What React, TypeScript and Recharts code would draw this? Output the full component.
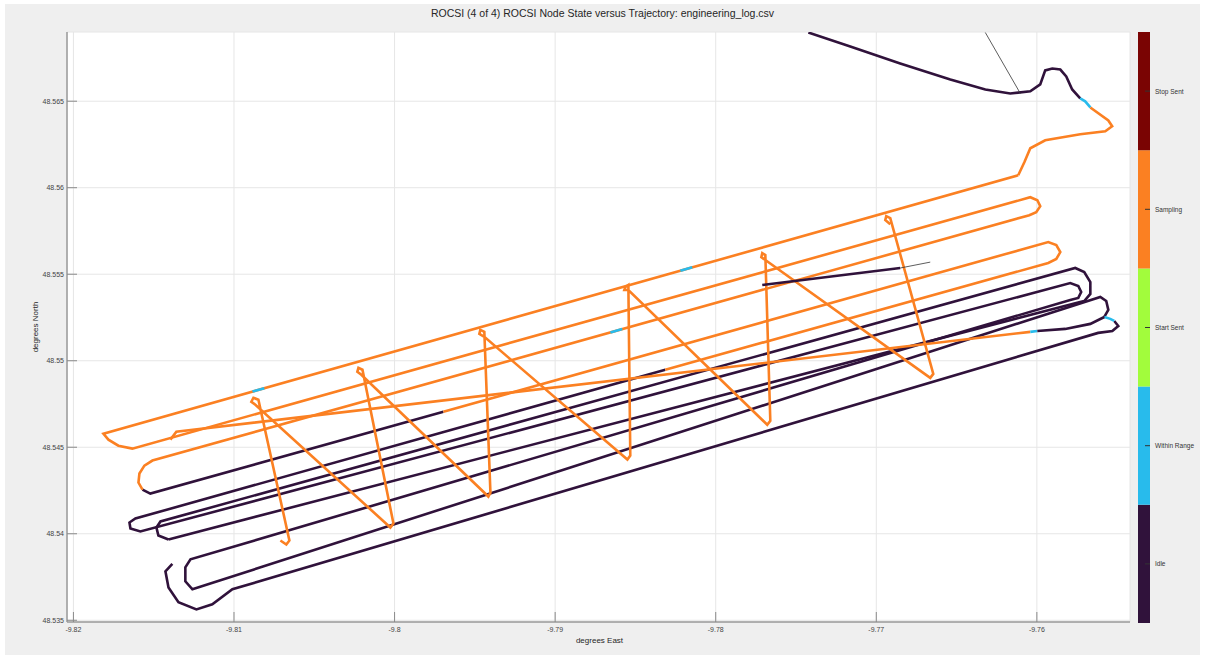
import React from 'react';
import { ScatterChart, Scatter, XAxis, YAxis, CartesianGrid, BarChart, Bar } from 'recharts';

const xTicks = [-9.82, -9.81, -9.8, -9.79, -9.78, -9.77, -9.76];
const yTicks = [48.535, 48.54, 48.545, 48.55, 48.555, 48.56, 48.565];
const stateNames = ['Idle', 'Within Range', 'Start Sent', 'Sampling', 'Stop Sent'];
const stateColors = ['#30123b', '#28bbec', '#a2fc3c', '#fb8022', '#7a0403'];

type P = [number, number];

const approachIdle: P[] = [
  [-9.77423, 48.56897], [-9.77162, 48.56816], [-9.76851, 48.56718], [-9.76539, 48.56626],
  [-9.76321, 48.56568], [-9.76166, 48.56545], [-9.76041, 48.56557], [-9.75979, 48.56597],
  [-9.75948, 48.56678], [-9.75904, 48.56689], [-9.75854, 48.56683], [-9.75817, 48.56643],
  [-9.7578, 48.56568], [-9.7573, 48.56516],
];
const approachWithin: P[] = [[-9.7573, 48.56516], [-9.75699, 48.56499], [-9.75667, 48.56464]];
const transitSampling: P[] = [
  [-9.75667, 48.56464], [-9.75555, 48.56389], [-9.75531, 48.56355], [-9.75574, 48.56326],
  [-9.7573, 48.56309], [-9.75948, 48.56274], [-9.76041, 48.56228], [-9.76078, 48.56147],
  [-9.76116, 48.56072],
];
const surveyUpperSampling: P[] = [
  [-9.76116, 48.56072], [-9.81813, 48.54578], [-9.81782, 48.54544], [-9.8172, 48.54509],
  [-9.81633, 48.54492], [-9.76041, 48.55945], [-9.75997, 48.55928], [-9.75979, 48.55893],
  [-9.76004, 48.55859], [-9.76047, 48.55841], [-9.81508, 48.54423], [-9.81558, 48.54394],
  [-9.81589, 48.54348], [-9.81595, 48.54296], [-9.8157, 48.54255],
];
const lineDIdle: P[] = [[-9.8157, 48.54255], [-9.81521, 48.54232], [-9.79696, 48.54705]];
const lineDSampling: P[] = [
  [-9.79696, 48.54705], [-9.75929, 48.55686], [-9.75879, 48.55668], [-9.75854, 48.55628],
  [-9.75879, 48.55588], [-9.75929, 48.55565], [-9.78314, 48.54948],
];
const surveyLowerIdle: P[] = [
  [-9.78314, 48.54948], [-9.81614, 48.54088], [-9.81651, 48.54065], [-9.81645, 48.54031],
  [-9.81583, 48.54013], [-9.75792, 48.55449], [-9.75742, 48.55432], [-9.75724, 48.55397],
  [-9.75742, 48.55363], [-9.75792, 48.55351], [-9.81271, 48.53852], [-9.81303, 48.53806],
  [-9.81303, 48.53725], [-9.81259, 48.53679], [-9.75605, 48.55369], [-9.75568, 48.55345],
  [-9.75555, 48.55294], [-9.7558, 48.55253],
];
const lowerWithin: P[] = [[-9.7558, 48.55253], [-9.75543, 48.55242], [-9.75518, 48.5523]];
const bottomLoopIdle: P[] = [
  [-9.75518, 48.5523], [-9.75493, 48.55201], [-9.7553, 48.55172], [-9.75618, 48.55161],
  [-9.8101, 48.53679], [-9.81135, 48.53592], [-9.81234, 48.53563], [-9.81346, 48.53604],
  [-9.81408, 48.5369], [-9.81427, 48.53783], [-9.81384, 48.53826],
];
const outerLoopIdle: P[] = [
  [-9.81408, 48.53967], [-9.81471, 48.5399], [-9.81483, 48.54036], [-9.81458, 48.54071],
  [-9.75761, 48.55536], [-9.75705, 48.55513], [-9.75667, 48.55455], [-9.75667, 48.55386],
  [-9.75705, 48.55345], [-9.75755, 48.55334], [-9.81408, 48.53967],
];
const crossLineSampling: P[] = [[-9.81396, 48.54544], [-9.81359, 48.5459], [-9.76041, 48.55167]];
const crossLineWithin: P[] = [[-9.76041, 48.55167], [-9.75997, 48.55172]];
const crossLineIdle: P[] = [
  [-9.75997, 48.55172], [-9.75823, 48.55184], [-9.75667, 48.55213], [-9.7558, 48.55253],
];
const zigzagSampling: P[] = [
  [-9.80711, 48.53961], [-9.80674, 48.53938], [-9.80655, 48.53961], [-9.80848, 48.54775],
  [-9.80879, 48.54786], [-9.80892, 48.54763], [-9.80867, 48.54746], [-9.80026, 48.54036],
  [-9.80007, 48.54059], [-9.802, 48.54948], [-9.80225, 48.54959], [-9.80232, 48.54936],
  [-9.80207, 48.54919], [-9.79416, 48.54215], [-9.79403, 48.54238], [-9.79441, 48.55167],
  [-9.79466, 48.55178], [-9.79472, 48.55155], [-9.79441, 48.55138], [-9.7855, 48.54429],
  [-9.78532, 48.54452], [-9.78544, 48.55438], [-9.78563, 48.55426], [-9.78569, 48.55409],
  [-9.78544, 48.55409], [-9.77679, 48.5463], [-9.7766, 48.54653], [-9.77691, 48.55611],
  [-9.7771, 48.55622], [-9.77716, 48.55599], [-9.77691, 48.55582], [-9.76664, 48.54901],
  [-9.76645, 48.54924], [-9.76913, 48.55824], [-9.76938, 48.55836], [-9.76944, 48.55813],
  [-9.76913, 48.55789],
];
const topCrossIdle: P[] = [[-9.7771, 48.55438], [-9.76851, 48.55536]];
const thinTrack: P[] = [[-9.76851, 48.55536], [-9.76664, 48.5557]];
const withinMarks: P[][] = [
  [[-9.7822, 48.5552], [-9.78146, 48.5554]],
  [[-9.80885, 48.54822], [-9.80811, 48.54841]],
  [[-9.78656, 48.55163], [-9.78582, 48.55183]],
];
const gpsJump: P[] = [[-9.76321, 48.56897], [-9.76103, 48.56545]];

const segments: { state: number; pts: P[]; w?: number }[] = [
  { state: 0, pts: bottomLoopIdle },
  { state: 0, pts: outerLoopIdle },
  { state: 0, pts: surveyLowerIdle },
  { state: 1, pts: lowerWithin },
  { state: 0, pts: lineDIdle },
  { state: 3, pts: lineDSampling },
  { state: 3, pts: surveyUpperSampling },
  { state: 3, pts: crossLineSampling },
  { state: 1, pts: crossLineWithin },
  { state: 0, pts: crossLineIdle },
  { state: 3, pts: zigzagSampling },
  { state: 0, pts: topCrossIdle },
  ...withinMarks.map((pts) => ({ state: 1, pts })),
  { state: 3, pts: transitSampling },
  { state: 0, pts: approachIdle },
  { state: 1, pts: approachWithin },
];

const colorbarData = [{ name: 'c', s0: 1, s1: 1, s2: 1, s3: 1, s4: 1 }];

const font = '"Liberation Sans", Arial, sans-serif';

const XTick = (props: any) => {
  const { x, y, payload } = props;
  return (
    <g>
      <line x1={x} x2={x} y1={y} y2={y - 10} stroke="#8a8a8a" strokeWidth={1} />
      <text x={x} y={y + 10} textAnchor="middle" fontSize={7} fill="#444" fontFamily={font}>
        {String(payload.value)}
      </text>
    </g>
  );
};

const YTick = (props: any) => {
  const { x, y, payload } = props;
  return (
    <g>
      <line x1={x} x2={x + 10} y1={y} y2={y} stroke="#8a8a8a" strokeWidth={1} />
      <text x={x - 3} y={y + 2.5} textAnchor="end" fontSize={7} fill="#444" fontFamily={font}>
        {String(payload.value)}
      </text>
    </g>
  );
};

const CTick = (props: any) => {
  const { x, y, payload } = props;
  const idx = Math.floor(payload.value);
  return (
    <g>
      <line x1={x - 5} x2={x} y1={y} y2={y} stroke="#333" strokeWidth={1} />
      <text x={x + 5} y={y + 2.5} fontSize={6.5} fill="#333" fontFamily={font}>
        {stateNames[idx]}
      </text>
    </g>
  );
};

const NoShape = () => <g />;

export default function App() {
  return (
    <div style={{ position: 'relative', width: 1205, height: 659, background: '#fff', fontFamily: font }}>
      <style>{`body{margin:0}`}</style>
      <div style={{ position: 'absolute', left: 5, top: 4, width: 1195, height: 651, background: '#efefef' }} />
      <div style={{ position: 'absolute', left: 0, top: 0 }}>
        <ScatterChart width={1205} height={659} margin={{ top: 32, right: 75, bottom: 7, left: 17 }}>
          <CartesianGrid stroke="#e6e6e6" fill="#ffffff" />
          <XAxis
            type="number"
            dataKey="x"
            domain={[-9.8204, -9.7542]}
            ticks={xTicks}
            height={30}
            tickSize={0}
            tickMargin={0}
            tick={<XTick />}
            stroke="#9a9a9a"
            strokeWidth={1.5}
            allowDataOverflow
            interval={0}
          />
          <YAxis
            type="number"
            dataKey="y"
            domain={[48.5349, 48.569]}
            ticks={yTicks}
            width={50}
            tickSize={0}
            tickMargin={0}
            tick={<YTick />}
            stroke="#9a9a9a"
            strokeWidth={1.5}
            allowDataOverflow
            interval={0}
          />
          {segments.map((s, i) => (
            <Scatter
              key={i}
              data={s.pts.map(([x, y]) => ({ x, y }))}
              line={{ stroke: stateColors[s.state], strokeWidth: s.w ?? 2.6 }}
              lineJointType="linear"
              shape={<NoShape />}
              isAnimationActive={false}
            />
          ))}
          <Scatter
            data={thinTrack.map(([x, y]) => ({ x, y }))}
            line={{ stroke: '#333', strokeWidth: 0.8 }}
            lineJointType="linear"
            shape={<NoShape />}
            isAnimationActive={false}
          />
          <Scatter
            data={gpsJump.map(([x, y]) => ({ x, y }))}
            line={{ stroke: '#333', strokeWidth: 0.8 }}
            lineJointType="linear"
            shape={<NoShape />}
            isAnimationActive={false}
          />
        </ScatterChart>
      </div>
      <div style={{ position: 'absolute', left: 1138, top: 32 }}>
        <BarChart width={70} height={591} data={colorbarData} margin={{ top: 0, right: 0, bottom: 0, left: 0 }} barCategoryGap={0}>
          <XAxis hide dataKey="name" />
          <YAxis
            orientation="right"
            type="number"
            domain={[0, 5]}
            ticks={[0.5, 1.5, 2.5, 3.5, 4.5]}
            width={58}
            tickSize={0}
            tickMargin={0}
            axisLine={false}
            tick={<CTick />}
            interval={0}
          />
          {[0, 1, 2, 3, 4].map((i) => (
            <Bar key={i} dataKey={`s${i}`} stackId="c" fill={stateColors[i]} isAnimationActive={false} />
          ))}
        </BarChart>
      </div>
      <div style={{ position: 'absolute', left: 0, width: 1205, top: 7, textAlign: 'center', fontSize: 10.5, color: '#262626' }}>
        ROCSI (4 of 4) ROCSI Node State versus Trajectory: engineering_log.csv
      </div>
      <div style={{ position: 'absolute', left: 0, width: 1205, top: 636, textAlign: 'center', fontSize: 8, color: '#262626' }}>
        <span style={{ position: 'relative', left: -3 }}>degrees East</span>
      </div>
      <div
        style={{
          position: 'absolute',
          left: 35,
          top: 327,
          transform: 'translate(-50%, -50%) rotate(-90deg)',
          fontSize: 8,
          color: '#262626',
          whiteSpace: 'nowrap',
        }}
      >
        degrees North
      </div>
    </div>
  );
}
